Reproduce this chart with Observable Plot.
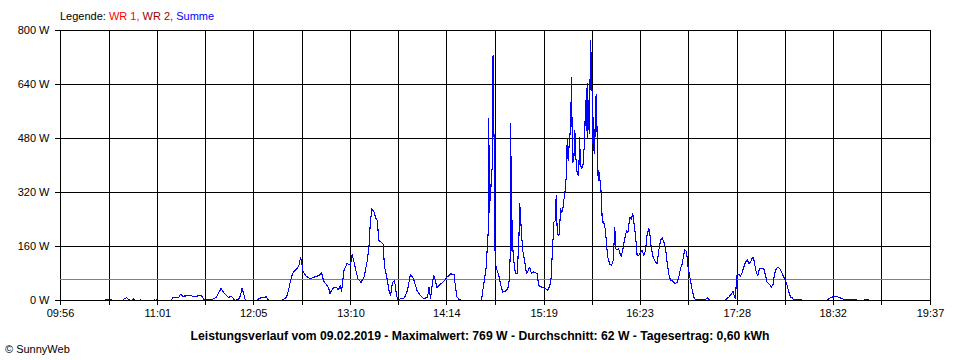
<!DOCTYPE html>
<html>
<head>
<meta charset="utf-8">
<script src="https://cdn.jsdelivr.net/npm/d3@7"></script>
<script src="https://cdn.jsdelivr.net/npm/@observablehq/plot@0.6"></script>
<style>
  body { margin: 0; background: #fff; }
  #wrap { position: relative; width: 960px; height: 360px; font-family: "Liberation Sans", Arial, sans-serif; font-size: 11px; color: #000; background: #fff; overflow: hidden; }
  #chart { position: absolute; left: 0; top: 0; }
  .legend { position: absolute; left: 60px; top: 10px; white-space: nowrap; }
  .caption { position: absolute; left: 0; width: 960px; top: 329px; text-align: center; font-weight: bold; font-size: 12.2px; white-space: nowrap; }
  .credit { position: absolute; left: 5px; top: 343px; white-space: nowrap; }
</style>
</head>
<body>
<div id="wrap">
  <div id="chart"></div>
  <div class="legend" id="legend"></div>
  <div class="caption" id="caption"></div>
  <div class="credit">© SunnyWeb</div>
</div>
<script>
// ---- data ----
const xTickLabels = ["09:56","11:01","12:05","13:10","14:14","15:19","16:23","17:28","18:32","19:37"];
const yTicks = [0, 160, 320, 480, 640, 800];
const legendNames = ["WR 1", "WR 2", "Summe"];
const legendColors = ["#ff0000", "#a00000", "#0000ff"];
const dateLabel = "09.02.2019";
const maxWatt = 769;
const averageWatt = 62;
const dailyYield = "0,60 kWh";

// time of day in minutes since midnight
const minuteOfDay = [
  596.0, 625.4, 626.1, 630.1, 630.7, 637.4, 638.1, 640.1, 641.4, 643.4,
  644.8, 646.1, 648.8, 649.4, 650.1, 658.1, 658.8, 659.4, 660.8, 661.4,
  670.1, 670.8, 674.8, 676.1, 677.5, 682.8, 685.5, 688.2, 690.8, 691.5,
  694.2, 696.2, 698.2, 700.2, 701.5, 703.2, 704.9, 706.9, 708.2, 709.5,
  710.9, 712.2, 714.9, 716.2, 717.2, 718.2, 719.5, 727.6, 728.2, 731.6,
  733.6, 734.2, 736.2, 743.6, 744.9, 746.9, 748.3, 749.6, 750.9, 751.9,
  753.9, 755.3, 756.3, 756.9, 757.9, 759.6, 761.6, 763.0, 765.0, 767.3,
  769.0, 770.3, 771.6, 774.0, 775.0, 776.0, 777.0, 778.6, 780.6, 781.6,
  783.0, 783.7, 785.3, 787.3, 789.7, 790.7, 791.7, 793.0, 794.7, 796.7,
  798.7, 800.7, 802.0, 803.0, 804.0, 805.4, 806.4, 807.4, 808.7, 810.0,
  811.4, 812.4, 813.7, 815.4, 816.4, 817.7, 819.1, 820.1, 821.1, 823.1,
  825.1, 826.4, 827.7, 829.7, 831.1, 832.1, 834.1, 836.4, 838.8, 841.1,
  842.1, 843.1, 844.1, 845.1, 846.1, 847.4, 849.8, 852.1, 854.1, 856.5,
  858.8, 859.8, 860.8, 862.5, 864.5, 876.5, 877.2, 878.3, 879.2, 880.3,
  881.0, 881.6, 882.0, 882.5, 882.7, 883.2, 883.8, 884.3, 884.5, 885.0,
  885.4, 885.8, 886.0, 886.7, 887.6, 888.7, 889.8, 891.4, 893.2, 894.7,
  895.8, 896.5, 896.7, 897.2, 897.6, 898.0, 898.7, 899.8, 901.0, 902.1,
  902.7, 903.2, 903.9, 904.7, 906.1, 907.2, 908.3, 909.4, 910.5, 911.9,
  913.2, 914.3, 915.4, 917.7, 919.9, 921.4, 922.8, 923.7, 924.4, 925.0,
  925.4, 926.6, 927.0, 927.7, 928.4, 929.2, 929.9, 930.6, 931.4, 932.1,
  932.8, 933.7, 934.4, 935.0, 935.5, 936.1, 936.6, 937.3, 937.7, 938.1,
  938.8, 939.5, 940.1, 941.1, 942.1, 942.6, 943.3, 943.9, 944.8, 945.5,
  946.1, 946.6, 947.1, 947.7, 948.1, 948.8, 949.3, 949.9, 950.4, 950.8,
  951.3, 951.7, 952.1, 952.6, 953.3, 953.7, 954.1, 954.6, 955.1, 955.5,
  956.0, 956.6, 957.3, 957.8, 958.6, 960.0, 960.6, 961.5, 962.8, 964.0,
  965.1, 966.2, 966.8, 968.0, 968.8, 970.0, 970.6, 971.8, 972.8, 974.0,
  974.9, 976.2, 977.1, 978.2, 978.9, 980.0, 981.1, 982.2, 983.3, 984.5,
  985.5, 986.7, 987.8, 988.9, 989.5, 990.5, 991.8, 993.3, 994.5, 995.5,
  996.7, 997.8, 998.9, 1000.0, 1001.2, 1002.2, 1003.4, 1004.5, 1005.6, 1006.7,
  1007.8, 1008.9, 1010.0, 1011.2, 1012.2, 1012.9, 1014.1, 1014.9, 1015.9, 1016.7,
  1017.9, 1018.9, 1020.1, 1026.7, 1027.9, 1028.9, 1030.1, 1039.4, 1040.1, 1042.3,
  1044.1, 1045.2, 1046.1, 1046.8, 1047.4, 1047.9, 1049.0, 1050.1, 1051.3, 1052.3,
  1053.5, 1054.6, 1055.7, 1056.8, 1057.9, 1058.8, 1059.7, 1060.8, 1061.7, 1062.8,
  1064.1, 1065.7, 1066.8, 1067.9, 1069.0, 1070.2, 1070.8, 1072.0, 1072.8, 1074.0,
  1075.3, 1076.8, 1078.0, 1079.0, 1080.2, 1081.3, 1082.4, 1083.5, 1084.6, 1085.7,
  1090.2, 1092.2, 1106.9, 1108.0, 1110.2, 1112.4, 1113.6, 1115.6, 1118.0, 1121.4,
  1126.9, 1130.3, 1133.6, 1135.6
];

// total power (Summe) in W
const summeWatt = [
  0, 0, 3, 3, 0, 0, 4, 8, 3, 0,
  5, 0, 0, 3, 0, 0, 3, 0, 4, 0,
  0, 9, 8, 19, 13, 14, 12, 14, 13, 2,
  4, 2, 5, 10, 22, 35, 24, 15, 8, 12,
  10, 0, 3, 15, 35, 22, 0, 0, 7, 8,
  12, 2, 0, 0, 3, 10, 30, 59, 78, 86,
  94, 105, 128, 118, 88, 74, 68, 64, 69, 72,
  74, 84, 59, 44, 38, 20, 30, 39, 37, 32,
  44, 28, 89, 109, 106, 136, 120, 94, 64, 54,
  69, 114, 158, 237, 272, 262, 245, 239, 178, 173,
  168, 99, 74, 30, 15, 54, 59, 25, 2, 5,
  5, 15, 30, 77, 69, 59, 30, 15, 5, 10,
  39, 5, 40, 74, 64, 39, 49, 57, 69, 79,
  77, 39, 10, 2, 0, 0, 2, 39, 64, 99,
  158, 202, 538, 262, 346, 296, 385, 390, 721, 726,
  504, 444, 163, 104, 89, 74, 49, 25, 28, 35,
  64, 158, 524, 148, 237, 158, 119, 79, 79, 178,
  287, 247, 198, 148, 114, 79, 89, 99, 80, 85,
  82, 79, 44, 39, 35, 30, 44, 69, 138, 188,
  232, 237, 311, 207, 193, 198, 272, 262, 267, 296,
  316, 365, 479, 415, 449, 484, 513, 662, 484, 410,
  415, 504, 425, 375, 370, 484, 405, 390, 395, 439,
  484, 593, 504, 642, 479, 593, 494, 769, 721, 632,
  602, 444, 543, 435, 543, 612, 568, 415, 356, 385,
  360, 350, 301, 232, 235, 207, 168, 128, 107, 104,
  119, 215, 153, 150, 153, 133, 132, 158, 183, 207,
  200, 247, 240, 257, 232, 193, 133, 133, 143, 148,
  133, 148, 198, 212, 200, 158, 128, 114, 109, 148,
  178, 186, 173, 158, 109, 79, 59, 59, 54, 50,
  54, 69, 94, 109, 136, 150, 145, 104, 79, 59,
  30, 10, 2, 2, 8, 3, 0, 0, 2, 10,
  20, 27, 10, 5, 64, 79, 78, 71, 84, 99,
  114, 121, 109, 114, 126, 126, 104, 81, 74, 94,
  94, 94, 74, 54, 50, 44, 40, 49, 79, 94,
  99, 91, 79, 69, 59, 44, 25, 10, 8, 2,
  2, 0, 0, 2, 8, 12, 12, 10, 5, 2,
  2, 0, 2, 2
];

if (minuteOfDay.length !== summeWatt.length) throw new Error("length mismatch " + minuteOfDay.length + " vs " + summeWatt.length);

// ---- build ----
const toMin = s => { const [h, m] = s.split(":").map(Number); return h * 60 + m; };
const labelMins = xTickLabels.map(toMin);
const labelByMin = new Map(labelMins.map((m, i) => [m, xTickLabels[i]]));
const gridMins = [];
labelMins.forEach((m, i) => {
  gridMins.push(m);
  if (i < labelMins.length - 1) gridMins.push((m + labelMins[i + 1]) / 2);
});
const series = minuteOfDay.map((t, i) => ({t, w: summeWatt[i]}));

const chart = Plot.plot({
  width: 960,
  height: 360,
  marginLeft: 60,
  marginRight: 30,
  marginTop: 30,
  marginBottom: 60,
  style: {fontFamily: '"Liberation Sans", Arial, sans-serif', fontSize: "11px", background: "transparent", color: "#000"},
  x: {type: "linear", domain: [labelMins[0], labelMins[labelMins.length - 1]], axis: null},
  y: {domain: [0, 800], axis: null},
  marks: [
    Plot.ruleY(yTicks, {stroke: "#000", strokeWidth: 1, shapeRendering: "crispEdges"}),
    Plot.ruleX(gridMins, {stroke: "#000", strokeWidth: 1, shapeRendering: "crispEdges"}),
    Plot.ruleY([averageWatt], {stroke: "#808080", strokeWidth: 1, shapeRendering: "crispEdges"}),
    Plot.line(series, {x: "t", y: "w", stroke: "#0000ff", strokeWidth: 1.1, shapeRendering: "crispEdges"}),
    Plot.ruleY([0], {stroke: "#000", strokeWidth: 1, shapeRendering: "crispEdges"}),
    Plot.axisX(gridMins, {tickSize: 5, tickPadding: 4, label: null, tickFormat: d => labelByMin.get(d) ?? "", fill: "#000", stroke: "#000", shapeRendering: "crispEdges"}),
    Plot.axisY(yTicks, {tickSize: 5, tickPadding: 6, label: null, tickFormat: d => `${d} W`, fill: "#000", stroke: "#000", shapeRendering: "crispEdges"})
  ]
});
document.getElementById("chart").appendChild(chart);

// legend
const legend = document.getElementById("legend");
legend.append("Legende: ");
legendNames.forEach((n, i) => {
  const s = document.createElement("span");
  s.style.color = legendColors[i];
  s.textContent = n + (i < legendNames.length - 1 ? ", " : "");
  legend.append(s);
});

document.getElementById("caption").textContent =
  `Leistungsverlauf vom ${dateLabel} - Maximalwert: ${maxWatt} W - Durchschnitt: ${averageWatt} W - Tagesertrag: ${dailyYield}`;
</script>
</body>
</html>
